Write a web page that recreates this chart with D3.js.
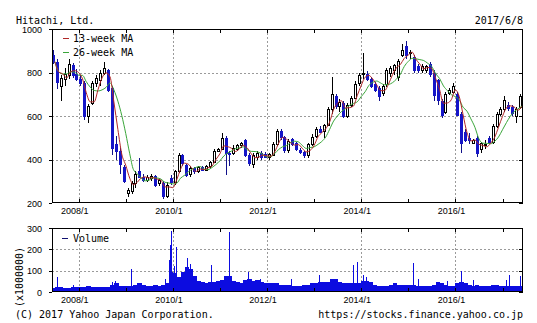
<!DOCTYPE html>
<html><head><meta charset="utf-8">
<script src="https://cdn.jsdelivr.net/npm/d3@7"></script>
<style>
html,body{margin:0;padding:0;background:#fff;}
svg{display:block;}
.mono{font-family:"DejaVu Sans Mono",monospace;font-size:10px;fill:#000;}
.tick{font-family:"Liberation Sans",Arial,sans-serif;font-size:9px;fill:#000;}
</style>
</head><body>
<svg id="c" width="537" height="323"></svg>
<script>
// ---- data (monthly candles, 2007/6 .. 2017/5) ----
const title = "Hitachi, Ltd.";
const asOf = "2017/6/8";
const startMonth = "2007-06";
const open  = [880,850,740,770,790,835,795,770,750,600,660,750,765,800,810,730,470,440,365,245,
               255,290,345,320,305,315,325,290,290,232,315,295,345,420,375,335,360,345,365,350,
               370,390,440,450,500,430,430,450,465,490,420,380,410,430,425,410,420,470,530,505,
               445,495,475,445,435,420,470,510,540,530,560,630,690,645,660,600,650,685,750,795,
               795,770,745,730,705,745,800,810,780,880,920,890,870,830,810,810,840,800,765,670,
               620,705,710,700,610,525,500,475,500,450,465,500,480,555,610,630,650,640,600,640];
const high  = [905,860,790,820,860,845,815,790,760,655,760,790,810,850,815,740,510,455,375,270,
               300,345,405,335,330,335,330,315,300,295,330,350,430,425,380,370,365,372,370,375,
               395,450,455,520,510,440,465,470,480,495,430,430,440,440,435,430,480,540,540,510,
               495,500,480,455,440,475,515,550,555,565,640,780,700,680,670,660,690,760,800,890,
               805,780,755,740,745,820,830,840,860,930,945,905,880,840,840,835,850,810,770,680,
               710,730,750,710,620,540,520,495,510,480,490,510,565,620,640,690,665,650,640,700];
const low   = [840,725,670,740,770,775,760,740,580,570,650,735,740,790,710,420,400,335,290,228,
               240,270,315,295,295,300,275,280,220,225,285,285,340,370,320,320,335,340,345,345,
               360,385,435,445,330,370,420,440,455,410,370,360,400,400,405,400,415,460,490,430,
               430,460,440,425,405,405,460,500,520,500,555,610,630,620,590,590,640,680,740,770,
               760,730,710,670,690,735,780,790,760,870,860,860,800,800,800,800,780,670,650,590,
               610,695,700,600,430,480,470,470,410,430,450,470,470,545,600,620,625,600,570,630];
const close = [850,755,775,795,840,790,770,750,600,645,750,775,800,820,720,455,440,380,300,262,
               290,335,320,305,320,325,285,305,232,285,295,345,420,385,330,360,345,365,350,370,
               390,440,448,500,430,425,455,465,475,420,385,420,430,410,410,425,470,530,505,445,
               485,470,450,435,420,470,505,540,525,560,630,700,645,665,600,650,685,745,790,800,
               770,740,720,690,740,810,820,835,855,905,880,895,810,810,830,830,795,695,675,605,
               700,720,740,605,475,490,490,490,430,475,470,480,555,610,630,675,635,615,630,690];
// monthly base volume (x1,000,000 shares)
const volumeBase = [20,22,25,20,20,22,22,25,25,28,25,22,22,25,25,35,40,30,28,30,
                    28,35,40,35,30,30,35,30,35,40,95,90,70,95,115,110,75,50,45,40,
                    45,45,50,55,75,75,50,45,40,55,60,50,55,45,40,40,40,40,35,35,
                    35,30,30,30,35,35,40,40,45,45,45,60,60,45,40,40,40,40,40,50,
                    50,45,35,30,30,30,35,40,35,35,35,35,35,30,30,30,30,35,45,40,
                    35,30,30,40,45,40,35,30,35,30,30,30,35,35,30,30,30,30,30,30];
// single-day volume spikes
const spikeDates  = ["2007-07-20","2007-11-16","2008-09-19","2008-10-10","2009-02-06","2009-10-30",
                     "2009-12-01","2009-12-10","2009-12-16","2010-01-08","2010-01-22","2010-04-19",
                     "2010-05-10","2010-10-25","2011-03-14","2011-03-15","2011-08-04","2011-11-10",
                     "2012-07-05","2013-02-08","2013-05-23","2013-11-01","2013-11-28","2014-01-17",
                     "2014-02-05","2015-02-06","2015-03-20","2015-10-30","2016-02-17","2016-05-13",
                     "2017-01-27","2017-02-17","2017-05-12"];
const spikeValues = [70,35,45,50,110,60,150,220,285,120,210,160,130,125,180,280,95,60,
                     60,80,60,125,140,80,70,135,60,50,100,55,55,80,75];
const priceTicks = [200,400,600,800,1000];
const volumeTicks = [0,100,200,300];
const yearLabels = ["2008/1","2010/1","2012/1","2014/1","2016/1"];
const seriesNames = ["13-week MA","26-week MA","Volume"];

// ---- layout ----
const svg = d3.select("#c");
const L = 52, R = 523;
const P = {top:29, bottom:203};
const V = {top:228, bottom:292};
const parseM = d3.timeParse("%Y-%m");
const parseD = d3.timeParse("%Y-%m-%d");
const m0 = parseM(startMonth);
const monthDate = i => d3.timeMonth.offset(m0, i);
const x = d3.scaleTime().domain([new Date(2007,5,8), new Date(2017,5,8)]).range([L,R]);
const yP = d3.scaleLinear().domain([200,1000]).range([P.bottom,P.top]);
const yV = d3.scaleLinear().domain([0,300]).range([V.bottom,V.top]);

const data = close.map((c,i)=>({i, date:d3.timeDay.offset(monthDate(i),14), o:open[i], h:high[i], l:low[i], c}));
// moving averages of closes, placed at the close date (month end)
const ma = n => data.map((d,i)=>({date:d3.timeDay.offset(monthDate(i+1),-1), v:d3.mean(close.slice(Math.max(0,i-n+1), i+1))}));
const ma13 = ma(3), ma26 = ma(6);

const defs = svg.append("defs");
defs.append("clipPath").attr("id","cp").append("rect").attr("x",L).attr("y",P.top).attr("width",R-L).attr("height",P.bottom-P.top);
defs.append("clipPath").attr("id","cv").append("rect").attr("x",L).attr("y",V.top).attr("width",R-L).attr("height",V.bottom-V.top);

const years = d3.timeYear.range(new Date(2008,0,1), new Date(2017,5,8));
const gridYears = years.filter(d=>d.getFullYear()%2===0);

function panelGrid(top,bottom,yScale,hTicks){
  const g = svg.append("g");
  g.selectAll("line.h").data(hTicks).join("line")
    .attr("x1",L).attr("x2",R).attr("y1",d=>Math.round(yScale(d))+0.5).attr("y2",d=>Math.round(yScale(d))+0.5)
    .attr("stroke","#9a9a9a").attr("stroke-dasharray","2,2");
  g.selectAll("line.v").data(gridYears).join("line")
    .attr("x1",d=>Math.round(x(d))+0.5).attr("x2",d=>Math.round(x(d))+0.5).attr("y1",top).attr("y2",bottom)
    .attr("stroke","#9a9a9a").attr("stroke-dasharray","2,2");
}
function panelFrame(top,bottom,yScale,ticks){
  const g = svg.append("g").attr("stroke","#000").attr("shape-rendering","crispEdges");
  g.append("rect").attr("x",L+0.5).attr("y",top+0.5).attr("width",R-L-1).attr("height",bottom-top-1).attr("fill","none");
  g.selectAll("line.t").data(years).join("line")
    .attr("x1",d=>Math.round(x(d))+0.5).attr("x2",d=>Math.round(x(d))+0.5).attr("y1",top).attr("y2",top+4);
  g.selectAll("line.b").data(years).join("line")
    .attr("x1",d=>Math.round(x(d))+0.5).attr("x2",d=>Math.round(x(d))+0.5).attr("y1",bottom-4).attr("y2",bottom);
  g.selectAll("line.l").data(ticks).join("line")
    .attr("x1",L-3).attr("x2",L).attr("y1",d=>Math.round(yScale(d))+0.5).attr("y2",d=>Math.round(yScale(d))+0.5);
  g.selectAll("line.r").data(ticks).join("line")
    .attr("x1",R-4).attr("x2",R).attr("y1",d=>Math.round(yScale(d))+0.5).attr("y2",d=>Math.round(yScale(d))+0.5);
  svg.append("g").selectAll("text").data(ticks).join("text").attr("class","tick")
    .attr("x",42).attr("y",d=>yScale(d)+3.5).attr("text-anchor","end").text(d=>d);
  svg.append("g").selectAll("text").data(gridYears).join("text").attr("class","tick")
    .attr("x",d=>x(d)-4).attr("y",bottom+11).attr("text-anchor","middle").text((d,i)=>yearLabels[i]);
}

// ---- price panel ----
panelGrid(P.top,P.bottom,yP,[400,600,800]);
const cg = svg.append("g").attr("clip-path","url(#cp)").attr("shape-rendering","crispEdges");
data.forEach(d=>{
  const r = Math.round(x(d.date));
  const up = d.c >= d.o;
  cg.append("line").attr("x1",r+0.5).attr("x2",r+0.5).attr("y1",yP(d.h)).attr("y2",yP(d.l))
    .attr("stroke", up ? "#000" : "#10108a");
  const yt = Math.round(yP(Math.max(d.o,d.c))), yb = Math.round(yP(Math.min(d.o,d.c)));
  if(up){
    cg.append("rect").attr("x",r-0.5).attr("y",yt+0.5).attr("width",2).attr("height",Math.max(1,yb-yt))
      .attr("fill","#fff").attr("stroke","#000");
  } else {
    cg.append("rect").attr("x",r-1).attr("y",yt).attr("width",3).attr("height",Math.max(2,yb-yt+1))
      .attr("fill","#1515c8");
  }
});
const line = d3.line().x(d=>x(d.date)).y(d=>yP(d.v)).curve(d3.curveMonotoneX);
const lg = svg.append("g").attr("clip-path","url(#cp)");
lg.append("path").datum(ma26).attr("d",line).attr("fill","none").attr("stroke","#3aa63a").attr("stroke-width",1);
lg.append("path").datum(ma13).attr("d",line).attr("fill","none").attr("stroke","#b02828").attr("stroke-width",1);
panelFrame(P.top,P.bottom,yP,priceTicks);

// legend
const legColors = ["#b02828","#3aa63a"];
[0,1].forEach(k=>{
  const yy = 38 + k*14;
  svg.append("line").attr("x1",63).attr("x2",69).attr("y1",yy+0.5).attr("y2",yy+0.5).attr("stroke",legColors[k]);
  svg.append("text").attr("class","mono").attr("x",73).attr("y",yy+3.5).text(seriesNames[k]);
});

// ---- volume panel ----
panelGrid(V.top,V.bottom,yV,[100,200]);
const vg = svg.append("g").attr("clip-path","url(#cv)").attr("shape-rendering","crispEdges");
vg.selectAll("rect").data(volumeBase).join("rect")
  .attr("x",(d,i)=>x(monthDate(i))).attr("width",(d,i)=>x(monthDate(i+1))-x(monthDate(i))+0.5)
  .attr("y",d=>yV(d)).attr("height",d=>V.bottom-yV(d)).attr("fill","#0c0ce0");
vg.selectAll("line").data(spikeValues).join("line")
  .attr("x1",(d,i)=>Math.round(x(parseD(spikeDates[i])))+0.5).attr("x2",(d,i)=>Math.round(x(parseD(spikeDates[i])))+0.5)
  .attr("y1",V.bottom).attr("y2",d=>yV(d)).attr("stroke","#0c0ce0");
panelFrame(V.top,V.bottom,yV,volumeTicks);
svg.append("line").attr("x1",62).attr("x2",68).attr("y1",238.5).attr("y2",238.5).attr("stroke","#101070");
svg.append("text").attr("class","mono").attr("x",73).attr("y",242).text(seriesNames[2]);
svg.append("text").attr("class","mono").attr("transform","translate(23,277) rotate(-90)").attr("text-anchor","middle").text("(x1000000)");

// ---- titles ----
svg.append("text").attr("class","mono").attr("x",16).attr("y",23.5).text(title);
svg.append("text").attr("class","mono").attr("x",523).attr("y",23.5).attr("text-anchor","end").text(asOf);
svg.append("text").attr("class","mono").attr("x",15).attr("y",318).text("(C) 2017 Yahoo Japan Corporation.");
svg.append("text").attr("class","mono").attr("x",523).attr("y",318).attr("text-anchor","end").text("https://stocks.finance.yahoo.co.jp");
</script>
</body></html>
